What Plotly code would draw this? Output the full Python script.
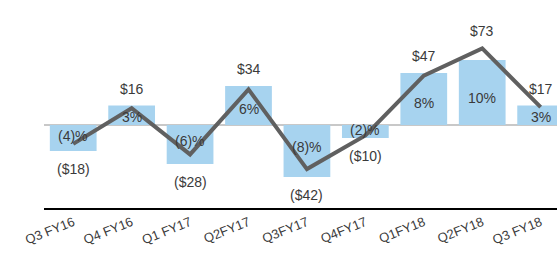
import plotly.graph_objects as go

# ---- data ----
quarters = ["Q3 FY16", "Q4 FY16", "Q1 FY17", "Q2FY17", "Q3FY17",
            "Q4FY17", "Q1FY18", "Q2FY18", "Q3 FY18"]
margin_pct = [-4, 3, -6, 6, -8, -2, 8, 10, 3]          # bars (%)
income_usd = [-18, 16, -28, 34, -42, -10, 47, 73, 17]  # line ($)


def pct_label(v):
    return f"({abs(v)})%" if v < 0 else f"{v}%"


def usd_label(v):
    return f"(${abs(v)})" if v < 0 else f"${v}"


Y1 = [-12.77, 19.23]   # bar axis range
Y2 = [-79.05, 119.05]  # line axis range
ratio = (Y1[1] - Y1[0]) / (Y2[1] - Y2[0])

FONT = "Arial, 'Liberation Sans', sans-serif"
TXT = "#3a3a3a"

fig = go.Figure()
fig.add_trace(go.Bar(
    x=quarters, y=margin_pct, marker_color="#A7D3EF",
    marker_line_width=0, yaxis="y", hoverinfo="skip"))
fig.add_trace(go.Scatter(
    x=quarters, y=income_usd, mode="lines",
    line=dict(color="#606060", width=4), yaxis="y2", hoverinfo="skip"))

annotations = []
for q, p, d in zip(quarters, margin_pct, income_usd):
    annotations.append(dict(
        x=q, y=p * 0.42, xref="x", yref="y", text=pct_label(p),
        showarrow=False, font=dict(family=FONT, size=14, color=TXT)))
    if d >= 0:
        ext, shift = max(p, d * ratio), 17
    else:
        ext, shift = min(p, d * ratio), -18
    annotations.append(dict(
        x=q, y=ext, xref="x", yref="y", yshift=shift, text=usd_label(d),
        showarrow=False, font=dict(family=FONT, size=14, color=TXT)))

fig.update_layout(
    width=557, height=254,
    margin=dict(l=44, r=0, t=0, b=46, autoexpand=False),
    plot_bgcolor="white", paper_bgcolor="white",
    showlegend=False, bargap=0.2,
    font=dict(family=FONT, color=TXT),
    annotations=annotations,
    xaxis=dict(type="category", range=[-0.5, 8.28], showline=True,
               linecolor="black", linewidth=2, ticks="", tickangle=-22,
               tickfont=dict(family=FONT, size=13, color=TXT),
               showgrid=False, zeroline=False, automargin=False),
    yaxis=dict(range=Y1, showgrid=False, showticklabels=False, ticks="",
               zeroline=True, zerolinecolor="#C8C8C8", zerolinewidth=2,
               automargin=False),
    yaxis2=dict(range=Y2, overlaying="y", visible=False, zeroline=False,
                showgrid=False),
)

fig.write_html("out.html",
               config={"displayModeBar": False},
               post_script="document.body.style.margin='0';")
